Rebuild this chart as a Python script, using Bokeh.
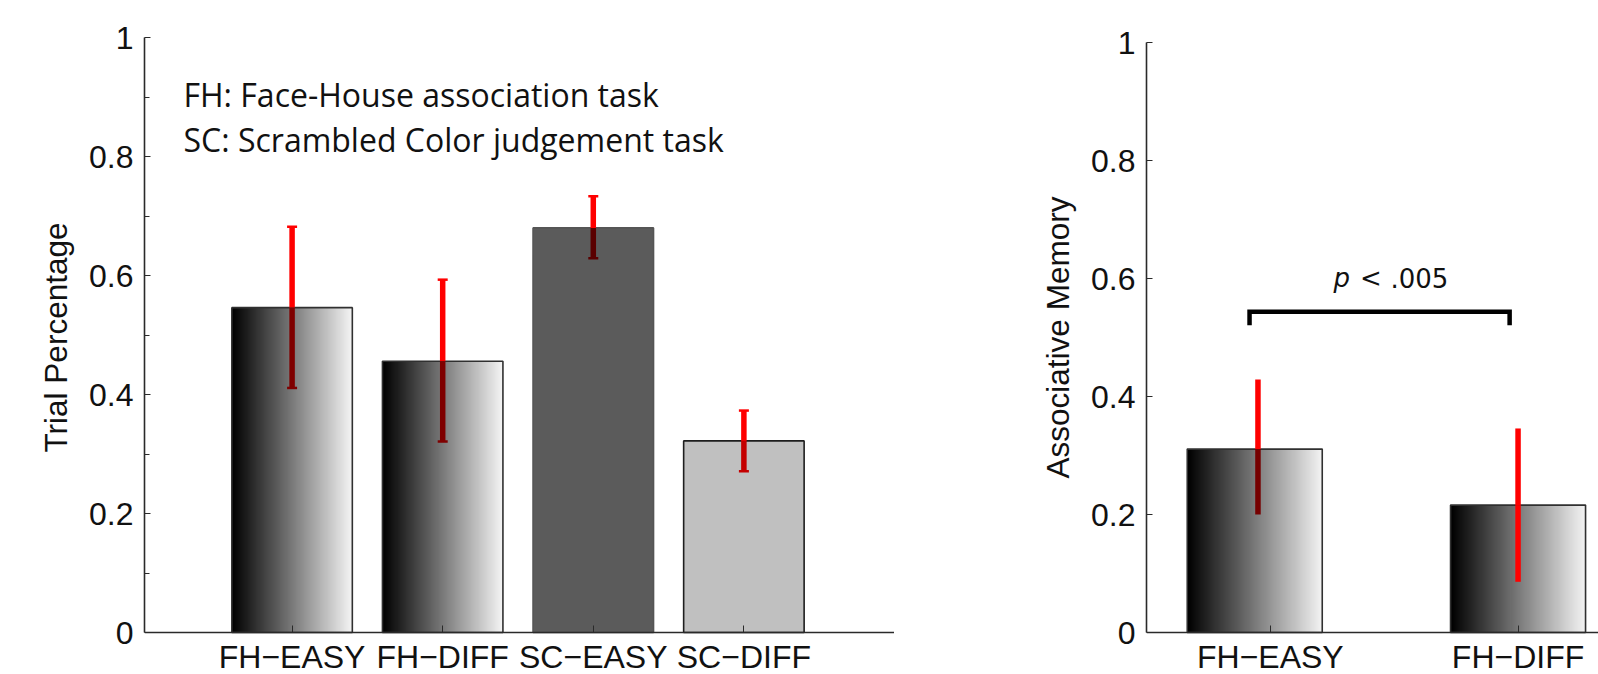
import numpy as np
from bokeh.plotting import figure
from bokeh.layouts import row
from bokeh.models import Range1d, FixedTicker, ColumnDataSource
from bokeh.embed import file_html
from bokeh.resources import INLINE
from bokeh.core.properties import value

# ---------------- data ----------------
left_categories = ["FH−EASY", "FH−DIFF", "SC−EASY", "SC−DIFF"]
left_means = [0.546, 0.456, 0.680, 0.322]
left_err_low = [0.411, 0.321, 0.629, 0.271]
left_err_high = [0.682, 0.593, 0.733, 0.373]

right_categories = ["FH−EASY", "FH−DIFF"]
right_means = [0.311, 0.216]
right_err_low = [0.200, 0.086]
right_err_high = [0.429, 0.346]

y_ticks = [0, 0.2, 0.4, 0.6, 0.8, 1]
y_minor_ticks = [0.1, 0.3, 0.5, 0.7, 0.9]
y_tick_labels = ["0", "0.2", "0.4", "0.6", "0.8", "1"]

note_lines = ["FH: Face-House association task", "SC: Scrambled Color judgement task"]
p_text_parts = ["p", "<", ".005"]

# ---------------- styles / layout ----------------
TICK_FONT = "Liberation Sans"
AXIS_COLOR = "#2a2a2a"
RED = "#ff0000"
FIG_H = 674


def gradient_image(n=256):
    img = np.zeros((1, n), dtype=np.uint32)
    v = img.view(dtype=np.uint8).reshape((1, n, 4))
    g = np.linspace(0, 246, n).astype(np.uint8)
    v[0, :, 0] = g
    v[0, :, 1] = g
    v[0, :, 2] = g
    v[0, :, 3] = 255
    return img


def style_axes(p, ylabel, minor):
    p.xgrid.visible = False
    p.ygrid.visible = False
    p.outline_line_color = None
    p.background_fill_color = "white"
    p.border_fill_color = "white"
    ya = p.yaxis[0]
    ya.ticker = FixedTicker(ticks=y_ticks, minor_ticks=y_minor_ticks if minor else [])
    ya.major_label_overrides = {t: l for t, l in zip(y_ticks, y_tick_labels)}
    ya.bounds = (0, 1)
    ya.major_tick_in = 6
    ya.major_tick_out = 0
    ya.minor_tick_in = 5
    ya.minor_tick_out = 0
    ya.major_tick_line_color = AXIS_COLOR
    ya.minor_tick_line_color = AXIS_COLOR
    ya.axis_line_color = AXIS_COLOR
    ya.axis_line_width = 1.6
    ya.major_label_standoff = 11
    ya.major_label_text_font = TICK_FONT
    ya.major_label_text_font_size = "32px"
    ya.major_label_text_color = "#111111"
    ya.axis_label = ylabel
    ya.axis_label_text_font = TICK_FONT
    ya.axis_label_text_font_size = "31.5px"
    ya.axis_label_text_font_style = "normal"
    ya.axis_label_text_color = "#111111"
    ya.axis_label_standoff = 12
    xa = p.xaxis[0]
    xa.fixed_location = 0
    xa.major_tick_in = 7
    xa.major_tick_out = 0
    xa.minor_tick_in = 0
    xa.minor_tick_out = 0
    xa.major_tick_line_color = AXIS_COLOR
    xa.axis_line_color = AXIS_COLOR
    xa.axis_line_width = 1.6
    xa.major_label_standoff = 6
    xa.major_label_text_font = TICK_FONT
    xa.major_label_text_font_size = "32px"
    xa.major_label_text_color = "#111111"


def draw_errors(p, xs, means, lows, highs, inner_colors, caps):
    outer_lo = [max(m, lo) for m, lo in zip(means, lows)]
    inner_hi = [min(m, hi) for m, hi in zip(means, highs)]
    p.segment(x0=xs, y0=outer_lo, x1=xs, y1=highs, line_color=RED,
              line_width=5.5, line_cap="butt")
    p.segment(x0=xs, y0=lows, x1=xs, y1=inner_hi, line_color=inner_colors,
              line_width=5.5, line_cap="butt")
    if caps:
        p.scatter(x=xs, y=highs, marker="dash", size=10, line_color=RED, line_width=2.5)
        p.scatter(x=xs, y=lows, marker="dash", size=10, line_color=inner_colors, line_width=2.5)


grad = gradient_image()

# ---------------- left panel ----------------
left_x = list(range(1, len(left_categories) + 1))
left_width = 0.8
left_is_gradient = [True, True, False, False]
left_fill = ["#ffffff", "#ffffff", "#5b5b5b", "#c0c0c0"]
left_fill_alpha = [0.0, 0.0, 1.0, 1.0]
left_line = ["#303030", "#303030", "#555555", "#1e1e1e"]
left_inner_err = ["#7f0000", "#7f0000", "#5a0000", "#c40000"]

L_PX = 595.0            # pixels per unit on the left y axis
L_Y0 = 632.0            # screen y of value 0
p1 = figure(width=894, height=FIG_H, x_range=Range1d(0.02, 0.02 + 750 / 150.6),
            y_range=Range1d(-(FIG_H - L_Y0) / L_PX, L_Y0 / L_PX),
            output_backend="svg", toolbar_location=None,
            min_border_left=144, min_border_right=0,
            min_border_top=0, min_border_bottom=0)
style_axes(p1, "Trial Percentage", minor=True)
p1.xaxis[0].ticker = FixedTicker(ticks=left_x)
p1.xaxis[0].major_label_overrides = {x: c for x, c in zip(left_x, left_categories)}

gx = [x - left_width / 2 for x, g in zip(left_x, left_is_gradient) if g]
gh = [m for m, g in zip(left_means, left_is_gradient) if g]
p1.image_rgba(image=[grad] * len(gx), x=gx, y=[0] * len(gx),
              dw=[left_width] * len(gx), dh=gh)
src1 = ColumnDataSource(dict(x=left_x, top=left_means, fill=left_fill,
                             alpha=left_fill_alpha, line=left_line))
p1.vbar(x="x", top="top", bottom=0, width=left_width, source=src1,
        fill_color="fill", fill_alpha="alpha", line_color="line", line_width=1.6)
draw_errors(p1, left_x, left_means, left_err_low, left_err_high, left_inner_err, caps=True)

p1.text(x=[0.279], y=[0.904], text=[note_lines[0]], text_font=value("Open Sans"),
        text_font_size="32px", text_color="#111111", text_baseline="alphabetic")
p1.text(x=[0.279], y=[0.828], text=[note_lines[1]], text_font=value("Open Sans"),
        text_font_size="32px", text_color="#111111", text_baseline="alphabetic")

# ---------------- right panel ----------------
right_x = list(range(1, len(right_categories) + 1))
right_width = 0.545
right_bar_offset = [-0.063, 0.0]
right_err_offset = [-0.05, 0.0]
right_bar_x = [x + o for x, o in zip(right_x, right_bar_offset)]
right_err_x = [x + o for x, o in zip(right_x, right_err_offset)]
right_inner_err = ["#760000", RED]

R_PX = 589.7
R_Y0 = 632.0
R_XPX = 247.7
p2 = figure(width=704, height=FIG_H, x_range=Range1d(0.5, 0.5 + 452 / R_XPX),
            y_range=Range1d(-(FIG_H - R_Y0) / R_PX, R_Y0 / R_PX),
            output_backend="svg", toolbar_location=None,
            min_border_left=252, min_border_right=0,
            min_border_top=0, min_border_bottom=0)
style_axes(p2, "Associative Memory", minor=False)
p2.xaxis[0].ticker = FixedTicker(ticks=right_x)
p2.xaxis[0].major_label_overrides = {x: c for x, c in zip(right_x, right_categories)}

p2.image_rgba(image=[grad] * len(right_x), x=[x - right_width / 2 for x in right_bar_x],
              y=[0] * len(right_x), dw=[right_width] * len(right_x), dh=right_means)
p2.vbar(x=right_bar_x, top=right_means, bottom=0, width=right_width,
        fill_alpha=0, line_color="#303030", line_width=1.6)
draw_errors(p2, right_err_x, right_means, right_err_low, right_err_high, right_inner_err, caps=False)

# significance bracket
br_x0, br_x1, br_top, br_end = 0.916, 1.966, 0.544, 0.521
p2.line(x=[br_x0, br_x0, br_x1, br_x1], y=[br_end, br_top, br_top, br_end],
        line_color="black", line_width=4.5, line_join="miter", line_cap="butt")
p_text_x = [1.255, 1.362, 1.485]
p_text_style = ["italic", "normal", "normal"]
for t, x, st in zip(p_text_parts, p_text_x, p_text_style):
    p2.text(x=[x], y=[0.602], text=[t], text_font=value("DejaVu Sans"),
            text_font_style=st, text_font_size="26px", text_color="#111111",
            text_baseline="alphabetic")

layout = row(p1, p2)
open("out.html", "w").write(file_html(layout, INLINE))
